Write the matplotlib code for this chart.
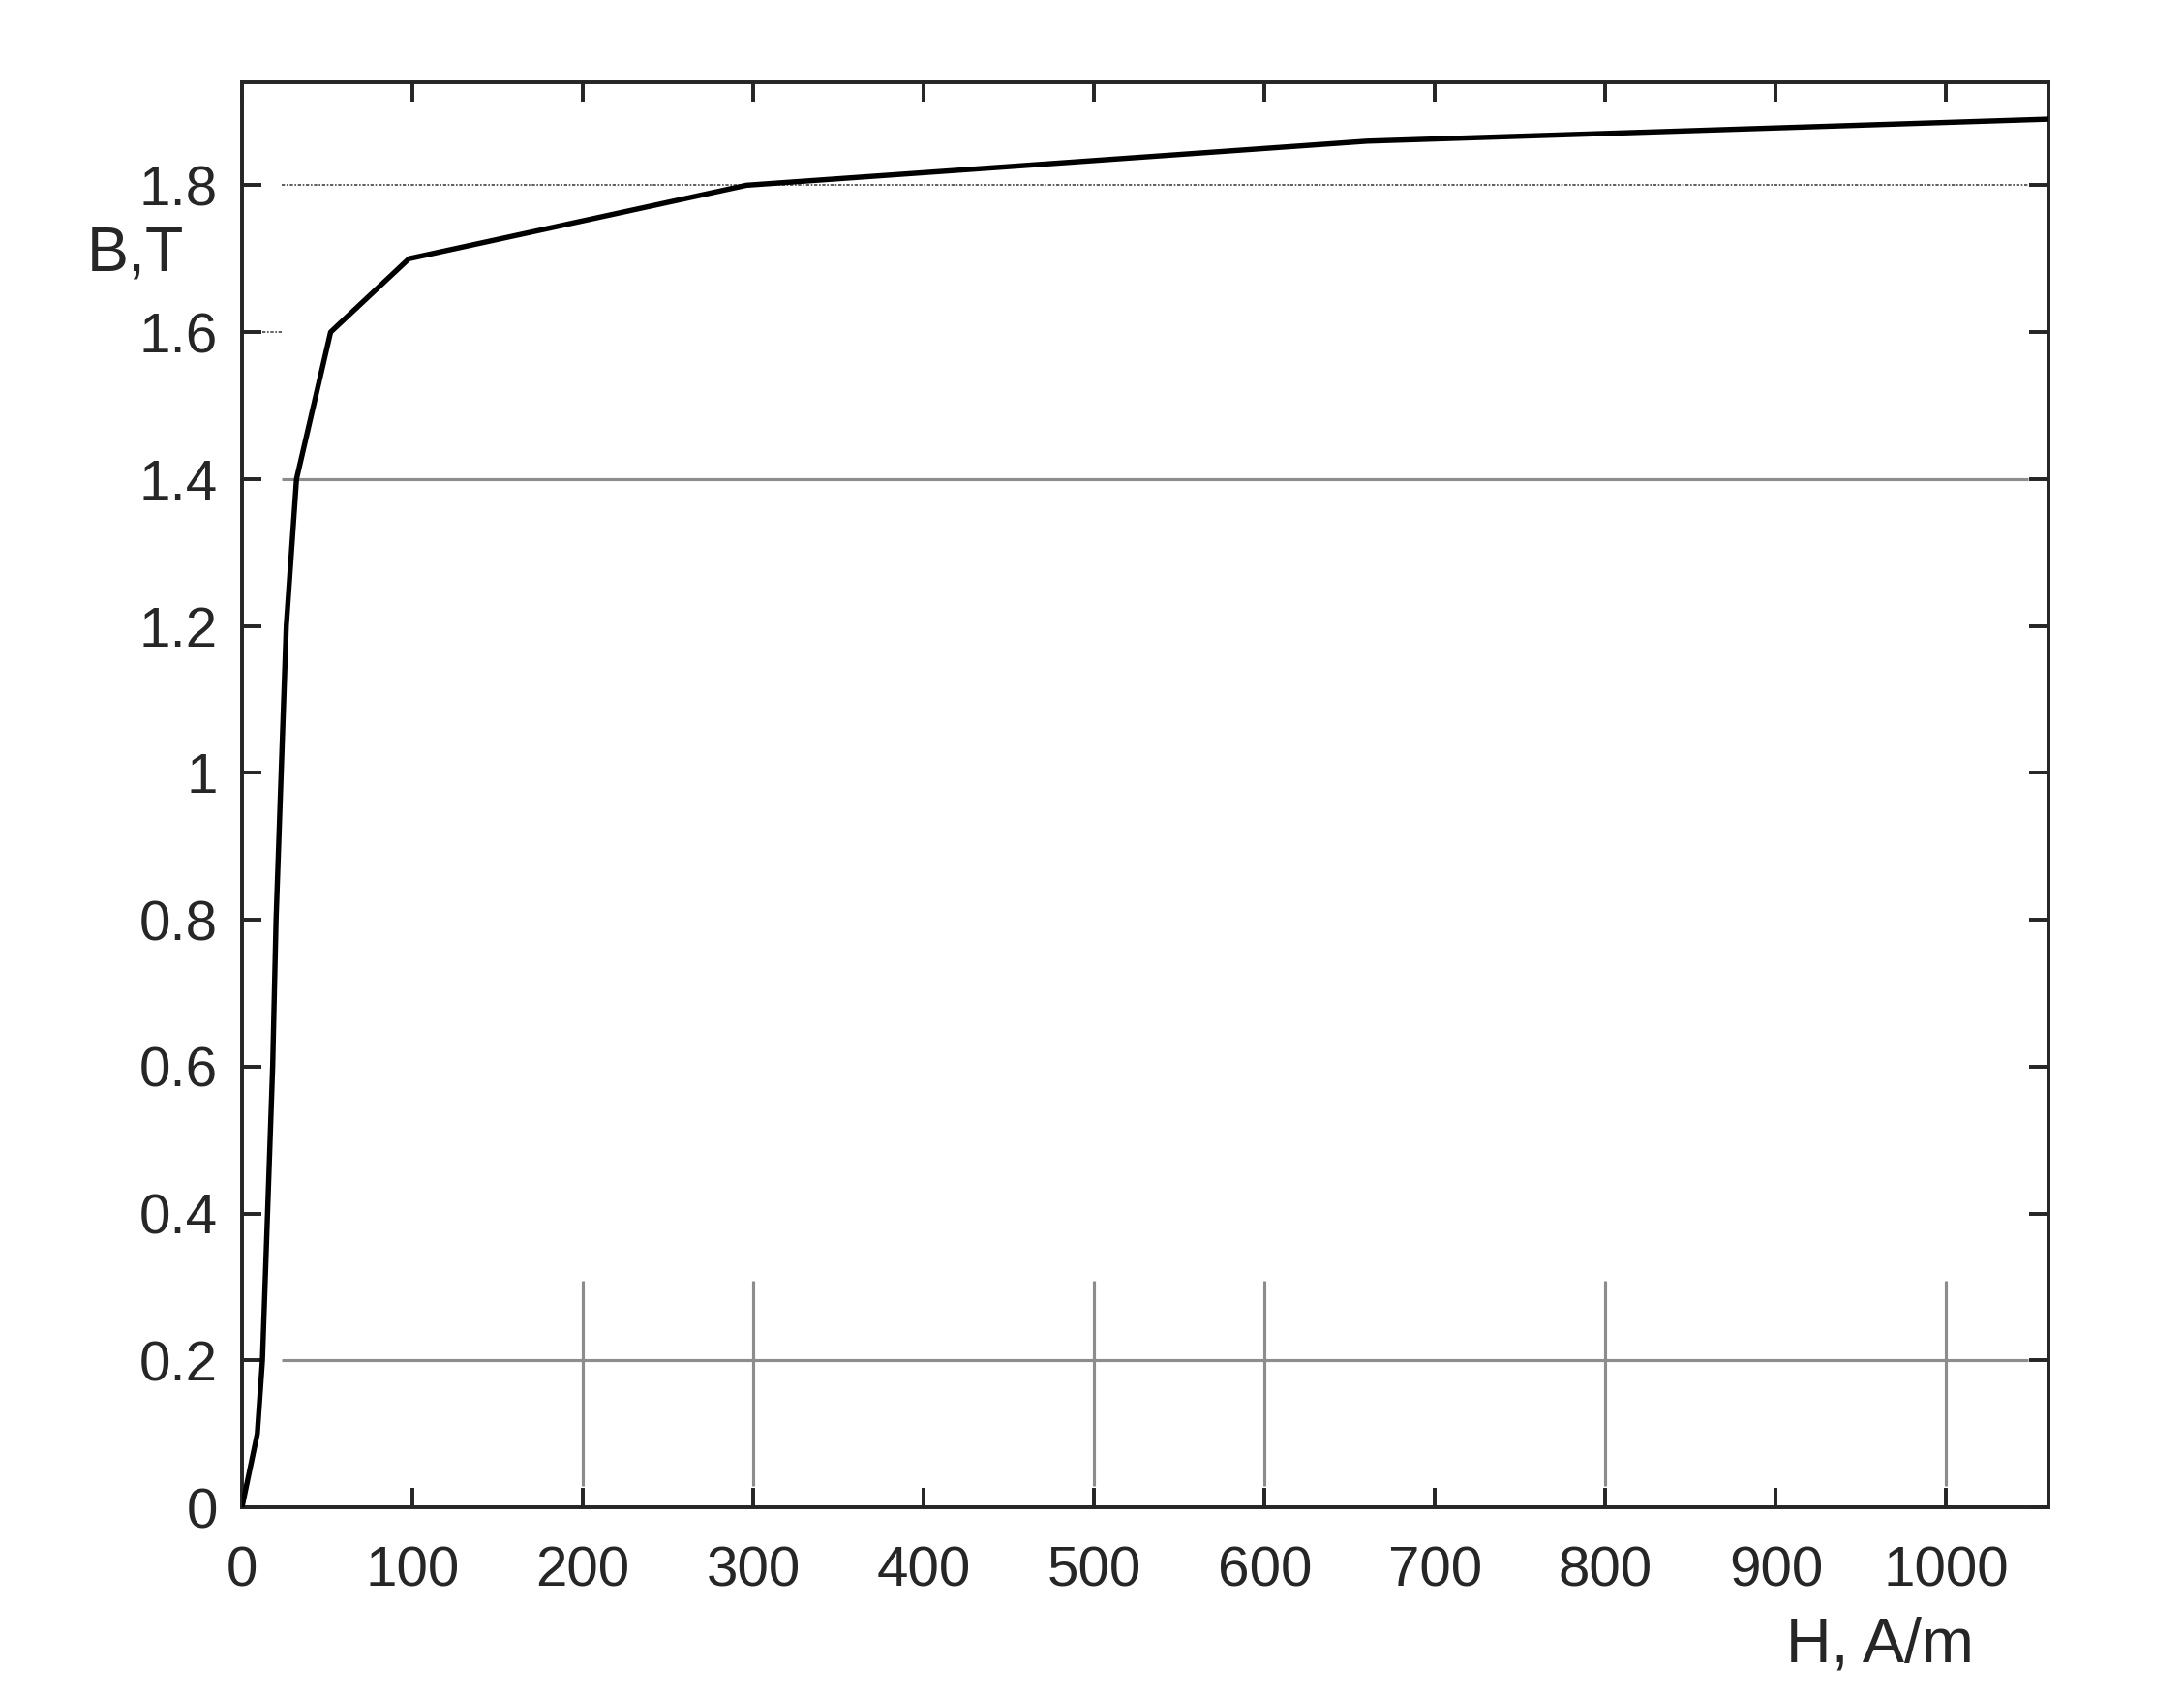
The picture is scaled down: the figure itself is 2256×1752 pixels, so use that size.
import numpy as np
import matplotlib
matplotlib.use("Agg")
import matplotlib.pyplot as plt

plt.rcParams['font.family'] = ['Liberation Sans', 'DejaVu Sans']

# magnetization curve B(H)
H = [0, 9, 12, 15, 18, 20, 23, 26, 29, 32, 52, 98, 296, 660, 1060]
B = [0, 0.1, 0.2, 0.4, 0.6, 0.8, 1.0, 1.2, 1.3, 1.4, 1.6, 1.7, 1.8, 1.86, 1.89]

xticks = [0, 100, 200, 300, 400, 500, 600, 700, 800, 900, 1000]
yticks = [0, 0.2, 0.4, 0.6, 0.8, 1.0, 1.2, 1.4, 1.6, 1.8]
ylabels = ['0', '0.2', '0.4', '0.6', '0.8', '1', '1.2', '1.4', '1.6', '1.8']

# leftover guide lines from the original figure
gray_rows = [0.2, 1.4]
dot_row = 1.8
short_row = 1.6
vert_cols = [200, 300, 500, 600, 800, 1000]

dark = '#262626'

fig = plt.figure(figsize=(7.52, 5.84), dpi=300)
ax = fig.add_axes([0.1108, 0.1113, 0.8272, 0.8401])

# guide lines
ax.hlines(gray_rows, 23.5, 1048, colors='#8c8c8c', lw=0.75, zorder=1)
ax.hlines(dot_row, 23.5, 1048, colors='#444444', lw=0.4, linestyles=(0, (2, 1, 1, 1)), zorder=1)
ax.hlines(short_row, 12, 23.5, colors='#444444', lw=0.4, linestyles=(0, (2, 1, 1, 1)), zorder=1)
ax.vlines(vert_cols, 0.0286, 0.309, colors='#8c8c8c', lw=0.75, zorder=1)

ax.plot(H, B, color='black', lw=1.3, zorder=3)

ax.set_xlim(0, 1060)
ax.set_ylim(0, 1.94)
ax.set_xticks(xticks)
ax.set_yticks(yticks)
ax.set_yticklabels(ylabels)

for s in ax.spines.values():
    s.set_linewidth(0.95)
    s.set_color(dark)

ax.tick_params(axis='both', direction='in', length=4.8, width=0.95, color=dark,
               labelcolor=dark, labelsize=14, top=True, right=True)
ax.tick_params(axis='x', pad=9.5)
ax.tick_params(axis='y', pad=6)

fig.text(0.861, 0.030, 'H, A/m', fontsize=15.5, color=dark, ha='center', va='center')
fig.text(0.062, 0.850, 'B,T', fontsize=15.5, color=dark, ha='center', va='center')

fig.savefig('out.png', dpi=300)
